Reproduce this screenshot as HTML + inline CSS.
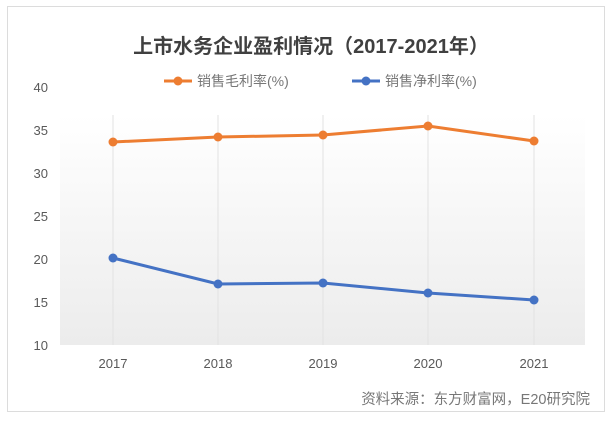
<!DOCTYPE html>
<html><head><meta charset="utf-8"><style>
body{margin:0;background:#fff;width:609px;height:416px;overflow:hidden}
svg text{font-family:"Liberation Sans","Noto Sans CJK SC",sans-serif}
</style></head><body>
<svg width="609" height="416" viewBox="0 0 609 416" xmlns="http://www.w3.org/2000/svg">
<defs><linearGradient id="g" x1="0" y1="0" x2="0" y2="1">
<stop offset="0" stop-color="#ffffff"/><stop offset="1" stop-color="#ececec"/></linearGradient></defs>
<rect x="7.5" y="6.5" width="597" height="405" fill="#fff" stroke="#dcdcdc"/>
<text x="311" y="53" text-anchor="middle" font-size="20" font-weight="bold" fill="#404040">上市水务企业盈利情况（2017-2021年）</text>
<line x1="164" y1="81" x2="192" y2="81" stroke="#ed7d31" stroke-width="3"/><circle cx="178" cy="81" r="4.5" fill="#ed7d31"/>
<text x="197" y="86" font-size="14" fill="#777">销售毛利率(%)</text>
<line x1="352" y1="81" x2="380" y2="81" stroke="#4472c4" stroke-width="3"/><circle cx="366" cy="81" r="4.5" fill="#4472c4"/>
<text x="385" y="86" font-size="14" fill="#777">销售净利率(%)</text>
<rect x="60" y="115" width="525" height="230" fill="url(#g)"/>
<g stroke="#e2e2e2" stroke-width="1">
<line x1="113" y1="115" x2="113" y2="345"/><line x1="218" y1="115" x2="218" y2="345"/><line x1="323" y1="115" x2="323" y2="345"/><line x1="428" y1="115" x2="428" y2="345"/><line x1="534" y1="115" x2="534" y2="345"/>
</g>
<g font-size="13" fill="#595959" text-anchor="end">
<text x="48" y="92">40</text><text x="48" y="135">35</text><text x="48" y="178">30</text><text x="48" y="221">25</text><text x="48" y="264">20</text><text x="48" y="307">15</text><text x="48" y="350">10</text>
</g>
<g font-size="13" fill="#595959" text-anchor="middle">
<text x="113" y="368">2017</text><text x="218" y="368">2018</text><text x="323" y="368">2019</text><text x="428" y="368">2020</text><text x="534" y="368">2021</text>
</g>
<polyline points="113,142 218,137 323,135 428,126 534,141" fill="none" stroke="#ed7d31" stroke-width="3"/>
<g fill="#ed7d31"><circle cx="113" cy="142" r="4.5"/><circle cx="218" cy="137" r="4.5"/><circle cx="323" cy="135" r="4.5"/><circle cx="428" cy="126" r="4.5"/><circle cx="534" cy="141" r="4.5"/></g>
<polyline points="113,258 218,284 323,283 428,293 534,300" fill="none" stroke="#4472c4" stroke-width="3"/>
<g fill="#4472c4"><circle cx="113" cy="258" r="4.5"/><circle cx="218" cy="284" r="4.5"/><circle cx="323" cy="283" r="4.5"/><circle cx="428" cy="293" r="4.5"/><circle cx="534" cy="300" r="4.5"/></g>
<text x="590" y="404" text-anchor="end" font-size="14.5" fill="#777">资料来源：东方财富网，E20研究院</text>
</svg>
</body></html>
